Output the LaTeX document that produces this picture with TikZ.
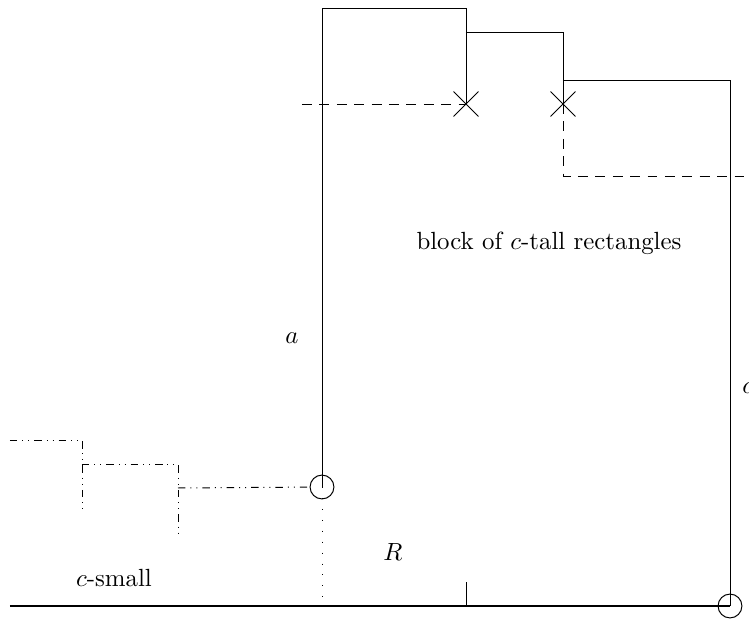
\documentclass[tikz,border=0pt]{standalone}
\usetikzlibrary{shapes.misc}
\begin{document}
\begin{tikzpicture}[x=0.4024pt,y=-0.4024pt,
    crossmark/.style={cross out, draw, minimum size=9.6pt, inner sep=0pt},
    hinge/.style={circle, draw, minimum size=9.6pt, inner sep=0pt},
    stairline/.style={dashdotdotted},
    guide/.style={dash pattern=on 4pt off 3pt}]
    \useasboundingbox (0,0) rectangle (749,620);
    \def\groundy{606}

    % ground and the two circles
    \node[hinge] (pivot) at (322,487) {};
    \node[hinge] (corner) at (730,\groundy) {};
    \coordinate (gstart) at (10,\groundy);
    \draw[line width=1pt] (gstart) -- (corner.center);

    % block of tall rectangles
    \node[crossmark] (x1) at (466,104) {};
    \node[crossmark] (x2) at (563,104) {};
    \draw (pivot.center) -- (322,8) -- (466,8) -- (x1.center);
    \draw (466,32) -- (563,32) -- (x2.center);
    \draw (563,80) -- (730,80) -- (corner.center);

    % dashed guides
    \draw[guide] (302,104) -- (x1.center);
    \draw[guide] (x2.center) -- (563,176) -- (745,176);

    % dotted drop and tick
    \draw[loosely dotted] (pivot.center) -- (322,\groundy);
    \draw (466,582) -- (466,\groundy);

    % staircase of small ones
    \draw[stairline] (10,440) -- (82,440) -- (82,512);
    \draw[stairline] (82,464) -- (178,464) -- (178,537);
    \draw[stairline] (178,488) -- (pivot);

    % labels
    \node (alabel) at (292,338) {$a$};
    \node[anchor=west, inner sep=0pt] (clabel) at (742,388) {$c$};
    \node (rlabel) at (393,552) {$R$};
    \node (smalllabel) at (114,578) {$c$-small};
    \node (blocklabel) at (549,243) {block of $c$-tall rectangles};
\end{tikzpicture}
\end{document}
